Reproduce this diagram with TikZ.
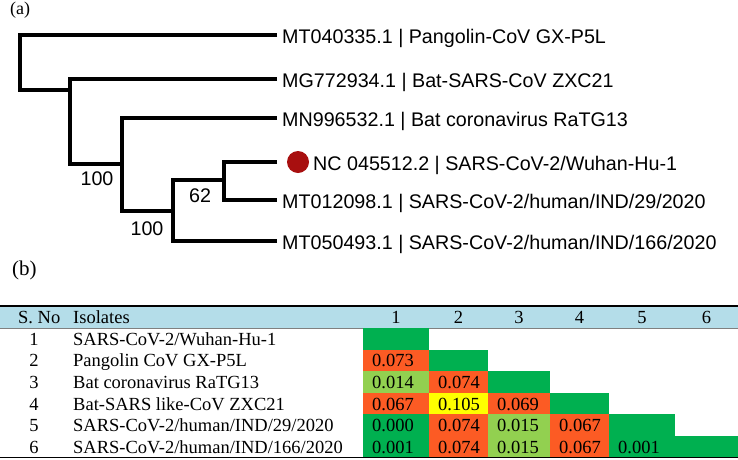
\documentclass[tikz,border=0pt]{standalone}
\usepackage{fontspec}
\setmainfont{Liberation Serif}
\newfontfamily\arialf{Liberation Sans}
\definecolor{dgreen}{HTML}{00B050}
\definecolor{lgreen}{HTML}{92D050}
\definecolor{orng}{HTML}{FC5B24}
\definecolor{yell}{HTML}{FFFF00}
\definecolor{hblue}{HTML}{B4DDE9}
\definecolor{dotred}{HTML}{A80F0F}
\begin{document}
\begin{tikzpicture}[x=1pt,y=-1pt,
  br/.style={line width=4.5pt,line join=miter,line cap=butt},
  tiplab/.style={anchor=base west,inner sep=0pt,font=\arialf\fontsize{19.7}{24}\selectfont},
  boot/.style={anchor=base,inner sep=0pt,font=\arialf\fontsize{19.7}{24}\selectfont},
  tab/.style={anchor=base west,inner sep=0pt,font=\fontsize{18.5}{22}\selectfont},
  tabc/.style={anchor=base,inner sep=0pt,font=\fontsize{18.5}{22}\selectfont},
  panel/.style={anchor=base west,inner sep=0pt}]
\useasboundingbox (0,0) rectangle (738,459);
% panel labels
\node[panel,font=\fontsize{18}{20}\selectfont] (pa) at (10,14) {(a)};
\node[panel,font=\fontsize{21}{24}\selectfont] (pb) at (12,275) {(b)};
% ---------------- tree ----------------
\coordinate (t1) at (277,35);
\coordinate (t2) at (277,79);
\coordinate (t3) at (277,118);
\coordinate (t4) at (277,162);
\coordinate (t5) at (277,200);
\coordinate (t6) at (277,241);
\coordinate (r) at (20,90);
\coordinate (a2) at (70,90);
\coordinate (b2) at (70,164);
\coordinate (a3) at (122,164);
\coordinate (b3) at (122,211);
\coordinate (a4) at (173,211);
\coordinate (n4) at (173,180);
\coordinate (a5) at (224,180);
\coordinate (b5) at (224,200);
\draw[br] (t1) -| (r) -- (a2);
\draw[br] (t2) -| (b2) -- (a3);
\draw[br] (t3) -| (b3) -- (a4);
\draw[br] (t6) -| (n4) -- (a5);
\draw[br] (t4) -| (b5) -- (t5);
\node[tiplab] (l1) at (282,43) {MT040335.1 | Pangolin-CoV GX-P5L};
\node[tiplab] (l2) at (282,87) {MG772934.1 | Bat-SARS-CoV ZXC21};
\node[tiplab] (l3) at (282,126) {MN996532.1 | Bat coronavirus RaTG13};
\node[circle,fill=dotred,minimum size=22pt,inner sep=0pt] (dot) at (298,162) {};
\node[tiplab] (l4) at (313,170) {NC 045512.2 | SARS-CoV-2/Wuhan-Hu-1};
\node[tiplab] (l5) at (282,208) {MT012098.1 | SARS-CoV-2/human/IND/29/2020};
\node[tiplab] (l6) at (282,249) {MT050493.1 | SARS-CoV-2/human/IND/166/2020};
\node[boot] (s1) at (97,185) {100};
\node[boot] (s2) at (200,202) {62};
\node[boot] (s3) at (147,235) {100};
% ---------------- table ----------------
\fill[hblue] (0,306) rectangle (738,328);
\draw[line width=1.3pt] (0,306) -- (738,306);
\draw[line width=0.6pt,gray] (0,328) -- (738,328);
\node[tab] (hs) at (18,323) {S. No};
\node[tab] (hi) at (73,323) {Isolates};
\node[tabc] (h1) at (396,323) {1};
\node[tabc] (h2) at (458.5,323) {2};
\node[tabc] (h3) at (519,323) {3};
\node[tabc] (h4) at (579.5,323) {4};
\node[tabc] (h5) at (642,323) {5};
\node[tabc] (h6) at (706.5,323) {6};
% row labels
\node[tabc] (n1) at (34,345.3) {1};
\node[tab] (i1) at (73,345.3) {SARS-CoV-2/Wuhan-Hu-1};
\node[tabc] (n2) at (34,366.9) {2};
\node[tab] (i2) at (73,366.9) {Pangolin CoV GX-P5L};
\node[tabc] (n3) at (34,388.5) {3};
\node[tab] (i3) at (73,388.5) {Bat coronavirus RaTG13};
\node[tabc] (n4) at (34,410.1) {4};
\node[tab] (i4) at (73,410.1) {Bat-SARS like-CoV ZXC21};
\node[tabc] (n5) at (34,431.7) {5};
\node[tab] (i5) at (73,431.7) {SARS-CoV-2/human/IND/29/2020};
\node[tabc] (n6) at (34,453.3) {6};
\node[tab] (i6) at (73,453.3) {SARS-CoV-2/human/IND/166/2020};
% cells: columns 363,429,488,550,609,675,738 ; rows 328,349.6,371.2,392.8,414.4,436,457.6
% row 1
\fill[dgreen] (363,328) rectangle (429,349.6);
% row 2
\fill[orng] (363,349.6) rectangle (429,371.2);
\fill[dgreen] (429,349.6) rectangle (488,371.2);
% row 3
\fill[lgreen] (363,371.2) rectangle (429,392.8);
\fill[orng] (429,371.2) rectangle (488,392.8);
\fill[dgreen] (488,371.2) rectangle (550,392.8);
% row 4
\fill[orng] (363,392.8) rectangle (429,414.4);
\fill[yell] (429,392.8) rectangle (488,414.4);
\fill[orng] (488,392.8) rectangle (550,414.4);
\fill[dgreen] (550,392.8) rectangle (609,414.4);
% row 5
\fill[dgreen] (363,414.4) rectangle (429,436);
\fill[orng] (429,414.4) rectangle (488,436);
\fill[lgreen] (488,414.4) rectangle (550,436);
\fill[orng] (550,414.4) rectangle (609,436);
\fill[dgreen] (609,414.4) rectangle (675,436);
% row 6
\fill[dgreen] (363,436) rectangle (429,457.6);
\fill[orng] (429,436) rectangle (488,457.6);
\fill[lgreen] (488,436) rectangle (550,457.6);
\fill[orng] (550,436) rectangle (609,457.6);
\fill[dgreen] (609,436) rectangle (738,457.6);
% values
\node[tab] (v21) at (372,366.9) {0.073};
\node[tab] (v31) at (372,388.5) {0.014};
\node[tab] (v32) at (438,388.5) {0.074};
\node[tab] (v41) at (372,410.1) {0.067};
\node[tab] (v42) at (438,410.1) {0.105};
\node[tab] (v43) at (497,410.1) {0.069};
\node[tab] (v51) at (372,431.7) {0.000};
\node[tab] (v52) at (438,431.7) {0.074};
\node[tab] (v53) at (497,431.7) {0.015};
\node[tab] (v54) at (559,431.7) {0.067};
\node[tab] (v61) at (372,453.3) {0.001};
\node[tab] (v62) at (438,453.3) {0.074};
\node[tab] (v63) at (497,453.3) {0.015};
\node[tab] (v64) at (559,453.3) {0.067};
\node[tab] (v65) at (618,453.3) {0.001};
\draw[line width=1.3pt] (0,457.8) -- (738,457.8);
\end{tikzpicture}
\end{document}
